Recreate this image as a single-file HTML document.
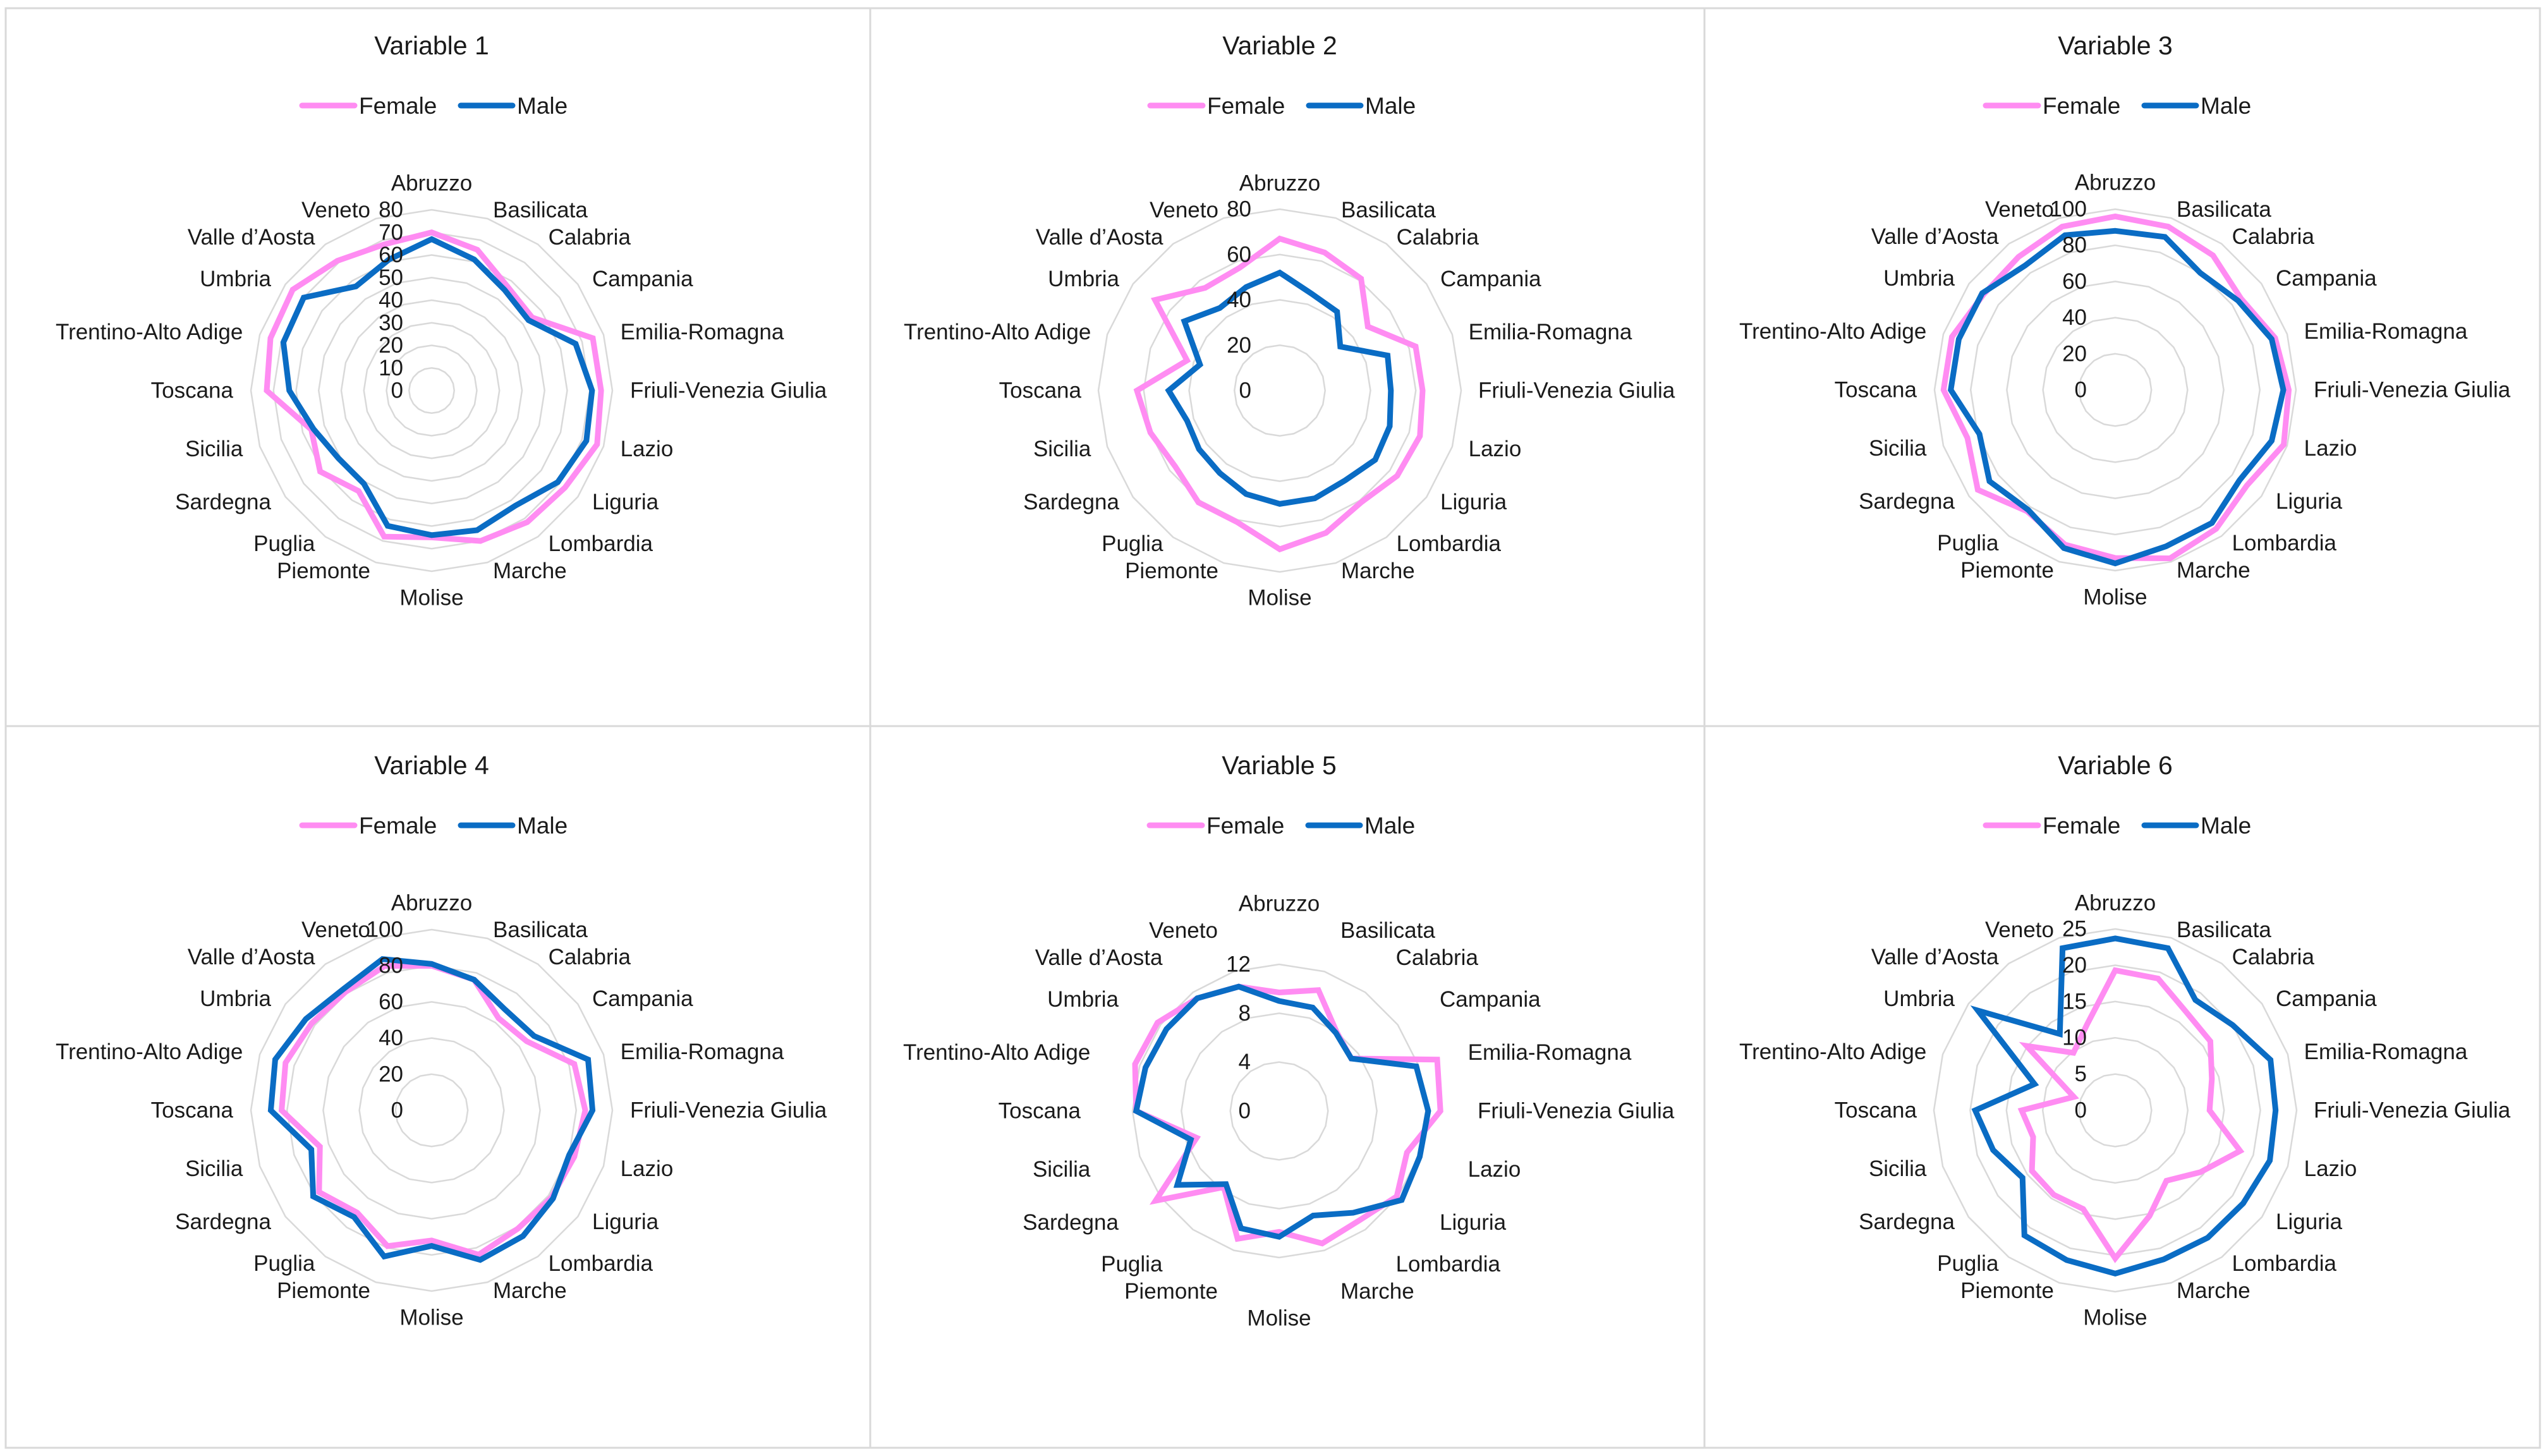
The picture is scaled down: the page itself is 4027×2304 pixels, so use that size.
<!DOCTYPE html>
<html><head><meta charset="utf-8">
<style>
html,body{margin:0;padding:0;background:#fff;}
svg{display:block;font-family:"Liberation Sans",sans-serif;}
</style></head>
<body>
<svg id="root" width="4027" height="2304" viewBox="0 0 4027 2304" xmlns="http://www.w3.org/2000/svg">
<rect x="0" y="0" width="4027" height="2304" fill="#fff"/>
<g stroke="#d9d9d9" stroke-width="3" fill="none">
<rect x="9" y="13" width="4010" height="2278"/>
<line x1="1377" y1="13" x2="1377" y2="2291"/>
<line x1="2697" y1="13" x2="2697" y2="2291"/>
<line x1="9" y1="1149" x2="4019" y2="1149"/>
</g>
</svg>
<script>
const categories = ["Abruzzo","Basilicata","Calabria","Campania","Emilia-Romagna","Friuli-Venezia Giulia","Lazio","Liguria","Lombardia","Marche","Molise","Piemonte","Puglia","Sardegna","Sicilia","Toscana","Trentino-Alto Adige","Umbria","Valle d\u2019Aosta","Veneto"];
const titles = ["Variable 1","Variable 2","Variable 3","Variable 4","Variable 5","Variable 6"];
const v1Female = [70,65.5,57,55,75,75,77,73,72,70,65,68,55,61,56,73,75,76,71,68];
const v1Male   = [67,61,55,53,67,71,72,69,63,65,64,63,51,51,55,63,69,70,57,61];
const v2Female = [67,64,61,48,63,63,65,64,61,66,70,61,61,57,60,63,43,68,56,57];
const v2Male   = [52,45,43,33,50,49,51,52,49,50,50,48,45,44,43,49,37,52,45,48];
const v3Female = [96,95,92,86,93,96,98,90,95,98,93,90,83,94,86,95,95,90,91,95];
const v3Male   = [88,89,80,84,91,93,91,85,91,91,96,92,82,86,79,91,91,91,85,90];
const v4Female = [80,76,63,65,83,85,83,82,81,84,72,79,70,77,65,83,85,82,81,84];
const v4Male   = [81,76,69,70,91,89,80,83,86,87,75,85,73,81,70,89,91,86,83,88];
const v5Female = [9.7,10.4,8,7.3,13.6,13.2,11,11.9,11.1,11.4,9.9,11,7.7,12.5,7.1,11.7,12.4,12.3,11.4,10.7];
const v5Male   = [9.0,8.9,7.9,7.3,11.8,12.2,12.1,12.4,10.3,9.0,10.3,10.1,7.4,10.3,7.6,11.7,11.5,11.4,11.4,10.7];
const v6Female = [19.3,19.1,16.7,16.2,14,13,18.1,14.5,12,15.3,20.4,14.3,14.4,14.2,11.9,12.9,6,15.1,9.8,12.5];
const v6Male   = [23.7,23.5,18.8,20,22.5,22.1,22.4,21.8,21.7,21.6,22.5,21.7,21.3,15.8,17.7,19.3,11.7,23.4,13,23.5];
const ticks1 = [0,10,20,30,40,50,60,70,80];
const ticks2 = [0,20,40,60,80];
const ticks3 = [0,20,40,60,80,100];
const ticks4 = [0,20,40,60,80,100];
const ticks5 = [0,4,8,12];
const ticks6 = [0,5,10,15,20,25];

const NS = "http://www.w3.org/2000/svg";
const root = document.getElementById("root");
function mk(tag, attrs, parent){const e=document.createElementNS(NS,tag);for(const k in attrs)e.setAttribute(k,attrs[k]);parent.appendChild(e);return e;}

const panels = [
 {cx:683,cy:618,R:286,ticks:ticks1,f:v1Female,m:v1Male},
 {cx:2025,cy:618,R:287,ticks:ticks2,f:v2Female,m:v2Male},
 {cx:3347,cy:617,R:286,ticks:ticks3,f:v3Female,m:v3Male},
 {cx:683,cy:1757,R:286,ticks:ticks4,f:v4Female,m:v4Male},
 {cx:2024,cy:1758,R:232,ticks:ticks5,f:v5Female,m:v5Male},
 {cx:3347,cy:1757,R:287,ticks:ticks6,f:v6Female,m:v6Male}
];

panels.forEach((p,pi)=>{
  const g = mk("g",{},root);
  
  
  const maxV = p.ticks[p.ticks.length-1];
  const n = categories.length;
  const ang = i => i*2*Math.PI/n;
  const rScale = v => v/maxV*p.R;
  const pt = (i,v) => [p.cx + rScale(v)*Math.sin(ang(i)), p.cy - rScale(v)*Math.cos(ang(i))];
  const rowOff = pi>=3 ? 1139 : 0;
  const t = mk("text",{x:p.cx,y:86+rowOff,"text-anchor":"middle","font-size":41,fill:"#1a1a1a"},g);
  t.textContent = titles[pi];
  
  
  const lg = mk("g",{},g);
  
  
  const lx = p.cx-205, ly=167+rowOff;
  const l1 = mk("line",{x1:lx,y1:ly,x2:lx+83,y2:ly,stroke:"#ff8cf2","stroke-width":9,"stroke-linecap":"round"},lg);
  
  
  const tf = mk("text",{x:lx+90,y:ly+13,"font-size":37,fill:"#1a1a1a"},lg);
  tf.textContent="Female";
  
  
  const l2 = mk("line",{x1:lx+251,y1:ly,x2:lx+333,y2:ly,stroke:"#0a6cc4","stroke-width":9,"stroke-linecap":"round"},lg);
  
  
  const tm = mk("text",{x:lx+340,y:ly+13,"font-size":37,fill:"#1a1a1a"},lg);
  tm.textContent="Male";
  
  
  p.ticks.forEach((tv,ti)=>{
    if(tv===0) return;
    const pts=[];for(let i=0;i<n;i++)pts.push(pt(i,tv).join(","));
    const gp = mk("polygon",{points:pts.join(" "),fill:"none",stroke:"#d9d9d9","stroke-width":2.5},g);
    
    
  });
  [[p.f,"#ff8cf2","female-series"],[p.m,"#0a6cc4","male-series"]].forEach(s=>{
    const pts=s[0].map((v,i)=>pt(i,v).join(","));
    const pl = mk("polygon",{points:pts.join(" "),fill:"none",stroke:s[1],"stroke-width":9,"stroke-linejoin":"miter"},g);
    
    
  });
  p.ticks.forEach(tv=>{
    const tt = mk("text",{x:p.cx-45,y:p.cy-rScale(tv),"text-anchor":"end","dominant-baseline":"central","font-size":35,fill:"#1a1a1a"},g);
    tt.textContent=String(tv);
    
    
  });
  categories.forEach((c,i)=>{
    const a=ang(i);const s=Math.sin(a),co=Math.cos(a);
    let x,y,anchor;
    if(i===0){x=p.cx;y=p.cy-328;anchor="middle";}
    else if(i===10){x=p.cx;y=p.cy+328;anchor="middle";}
    else {x=p.cx+314*s;y=p.cy-300*co;anchor=s>0?"start":"end";}
    const ct = mk("text",{x:x,y:y,"text-anchor":anchor,"dominant-baseline":"central","font-size":35,fill:"#1a1a1a"},g);
    ct.textContent=c;
    
    
  });
});
</script>
</body></html>
